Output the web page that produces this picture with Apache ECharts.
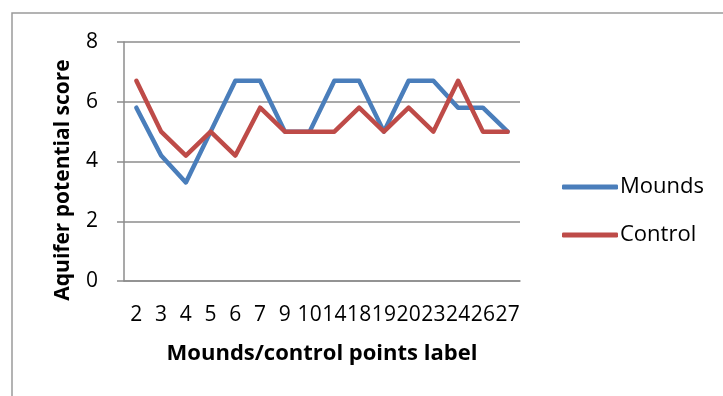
<!DOCTYPE html>
<html>
<head>
<meta charset="utf-8">
<script src="https://cdn.jsdelivr.net/npm/echarts@6/dist/echarts.min.js"></script>
<style>
  html, body { margin: 0; padding: 0; background: #fff; }
  #chart { width: 723px; height: 396px; }
</style>
</head>
<body>
<div id="chart"></div>
<script>
// Point labels along the x axis
const pointLabels = ['2', '3', '4', '5', '6', '7', '9', '10', '14', '18', '19', '20', '23', '24', '26', '27'];
// Aquifer potential score per point
const moundsScores  = [5.8, 4.2, 3.3, 5.0, 6.7, 6.7, 5.0, 5.0, 6.7, 6.7, 5.0, 6.7, 6.7, 5.8, 5.8, 5.0];
const controlScores = [6.7, 5.0, 4.2, 5.0, 4.2, 5.8, 5.0, 5.0, 5.0, 5.8, 5.0, 5.8, 5.0, 6.7, 5.0, 5.0];
const seriesNames = ['Mounds', 'Control'];
const yTicks = { min: 0, max: 8, interval: 2 };

const gridColor = '#8c8c8c';
const textFont = '"Open Sans", "Noto Sans", sans-serif';

const chart = echarts.init(document.getElementById('chart'));
chart.setOption({
  animation: false,
  backgroundColor: '#ffffff',
  grid: { left: 124, right: 203, top: 42, bottom: 115, containLabel: false },
  legend: {
    orient: 'vertical',
    left: 557,
    top: 171,
    itemWidth: 56,
    itemHeight: 5,
    itemGap: 26,
    icon: 'roundRect',
    data: seriesNames,
    textStyle: { fontFamily: textFont, fontSize: 22, color: '#000', padding: [0, 0, 0, -3] }
  },
  xAxis: {
    type: 'category',
    data: pointLabels,
    boundaryGap: true,
    axisLine: { show: true, lineStyle: { color: gridColor, width: 1.5 } },
    axisTick: { show: false },
    axisLabel: {
      interval: 0,
      margin: 24,
      fontFamily: textFont,
      fontSize: 21,
      color: '#000'
    }
  },
  yAxis: {
    type: 'value',
    min: yTicks.min,
    max: yTicks.max,
    interval: yTicks.interval,
    axisLine: { show: true, lineStyle: { color: gridColor, width: 1.5 } },
    axisTick: { show: true, inside: false, length: 7, lineStyle: { color: gridColor, width: 1.5 } },
    splitLine: { show: true, lineStyle: { color: gridColor, width: 1.5 } },
    axisLabel: {
      margin: 26,
      fontFamily: textFont,
      fontSize: 21,
      color: '#000'
    }
  },
  graphic: [
    {
      type: 'rect',
      shape: { x: 12, y: 13, width: 800, height: 500 },
      style: { fill: 'none', stroke: '#9a9a9a', lineWidth: 1.5 },
      silent: true,
      z: -10
    },
    {
      type: 'text',
      x: 63,
      y: 180,
      rotation: Math.PI / 2,
      style: {
        text: 'Aquifer potential score',
        font: 'bold 21px ' + textFont,
        fill: '#000',
        align: 'center',
        verticalAlign: 'middle'
      }
    },
    {
      type: 'text',
      x: 322,
      y: 354,
      style: {
        text: 'Mounds/control points label',
        font: 'bold 22px ' + textFont,
        fill: '#000',
        align: 'center',
        verticalAlign: 'middle'
      }
    }
  ],
  series: [
    {
      name: seriesNames[0],
      type: 'line',
      data: moundsScores,
      symbol: 'none',
      color: '#4a7ebb',
      lineStyle: { width: 4.5, color: '#4a7ebb', cap: 'round', join: 'round' }
    },
    {
      name: seriesNames[1],
      type: 'line',
      data: controlScores,
      symbol: 'none',
      color: '#be4b48',
      lineStyle: { width: 4.5, color: '#be4b48', cap: 'round', join: 'round' }
    }
  ]
});
</script>
</body>
</html>
